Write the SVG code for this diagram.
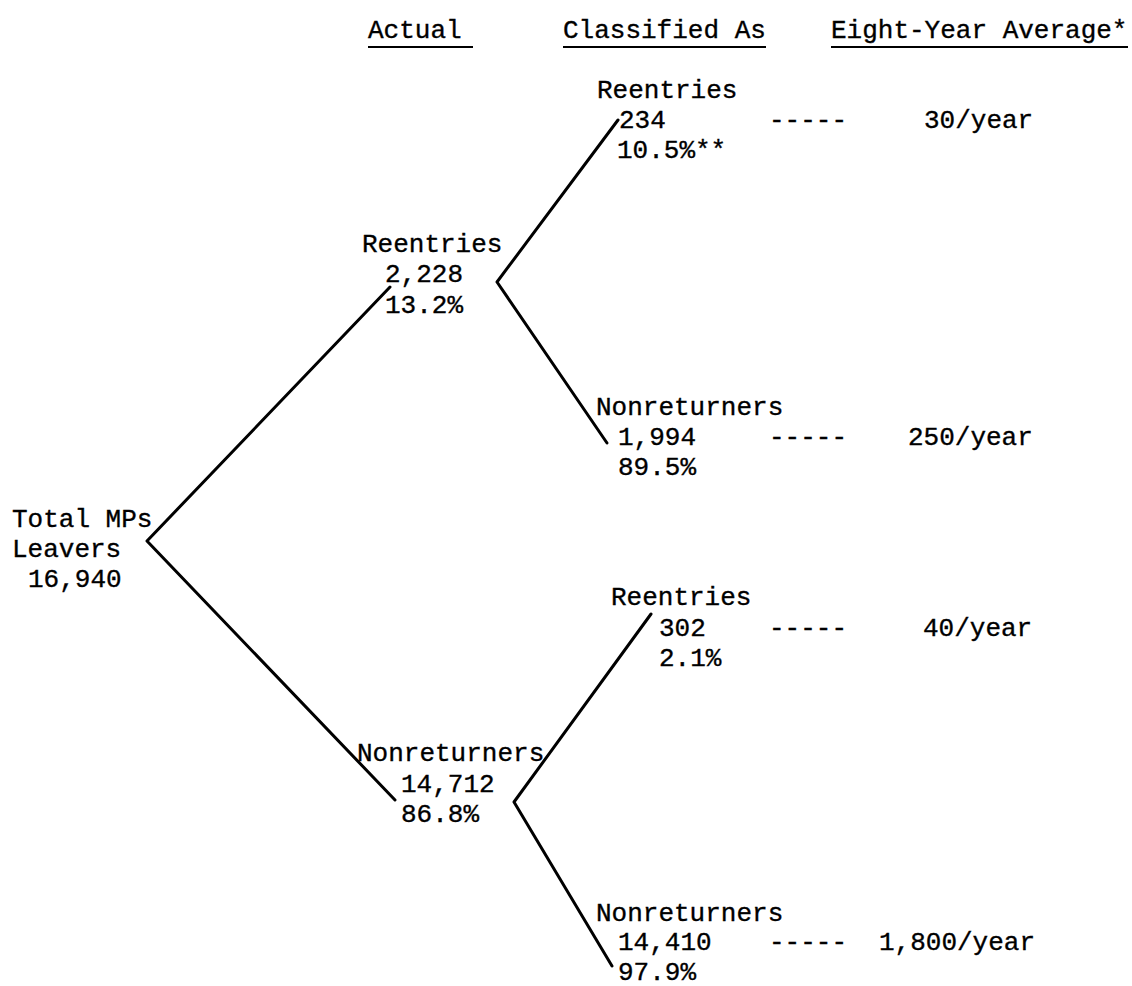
<svg xmlns="http://www.w3.org/2000/svg" width="1132" height="986" viewBox="0 0 1132 986">
  <style>
    text { font-family: "Liberation Mono", "DejaVu Sans Mono", monospace; font-size: 26px; letter-spacing: 0px; fill: #000; stroke: #000; stroke-width: 0.35px; }
    .hdr { stroke: #000; stroke-width: 2.2; }
    .edge { stroke: #000; stroke-width: 3; fill: none; stroke-linecap: round; stroke-linejoin: round; }
  </style>
  <rect width="1132" height="986" fill="#fff"/>

  <!-- column headings -->
  <g id="headings">
    <text x="368" y="38">Actual</text>
    <text x="563" y="38">Classified As</text>
    <text x="831" y="38">Eight-Year Average*</text>
    <line class="hdr" x1="368" y1="47" x2="473" y2="47"/>
    <line class="hdr" x1="563" y1="47" x2="766" y2="47"/>
    <line class="hdr" x1="831" y1="47" x2="1128" y2="47"/>
  </g>

  <!-- tree branches -->
  <g id="connectors">
    <polyline class="edge" points="390,287 147,541 395,800"/>
    <polyline class="edge" points="618,120 497,282 607,443"/>
    <polyline class="edge" points="651,614 514,802 612,966"/>
  </g>

  <g id="root">
    <text x="12" y="527">Total MPs</text>
    <text x="12" y="557">Leavers</text>
    <text x="28" y="587">16,940</text>
  </g>

  <g id="actual-reentries">
    <text x="362" y="252">Reentries</text>
    <text x="385" y="282">2,228</text>
    <text x="385" y="313">13.2%</text>
  </g>

  <g id="actual-nonreturners">
    <text x="357" y="761">Nonreturners</text>
    <text x="401" y="792">14,712</text>
    <text x="401" y="822">86.8%</text>
  </g>

  <g id="re-reentries">
    <text x="597" y="98">Reentries</text>
    <text x="619" y="128">234</text>
    <text x="617" y="158">10.5%**</text>
    <text x="769" y="128">-----</text>
    <text x="924" y="128">30/year</text>
  </g>

  <g id="re-nonreturners">
    <text x="596" y="415">Nonreturners</text>
    <text x="618" y="445">1,994</text>
    <text x="618" y="475">89.5%</text>
    <text x="769" y="445">-----</text>
    <text x="908" y="445">250/year</text>
  </g>

  <g id="non-reentries">
    <text x="611" y="605">Reentries</text>
    <text x="659" y="636">302</text>
    <text x="659" y="666">2.1%</text>
    <text x="769" y="636">-----</text>
    <text x="923" y="636">40/year</text>
  </g>

  <g id="non-nonreturners">
    <text x="596" y="921">Nonreturners</text>
    <text x="618" y="950">14,410</text>
    <text x="618" y="980">97.9%</text>
    <text x="769" y="950">-----</text>
    <text x="879" y="950">1,800/year</text>
  </g>
</svg>
